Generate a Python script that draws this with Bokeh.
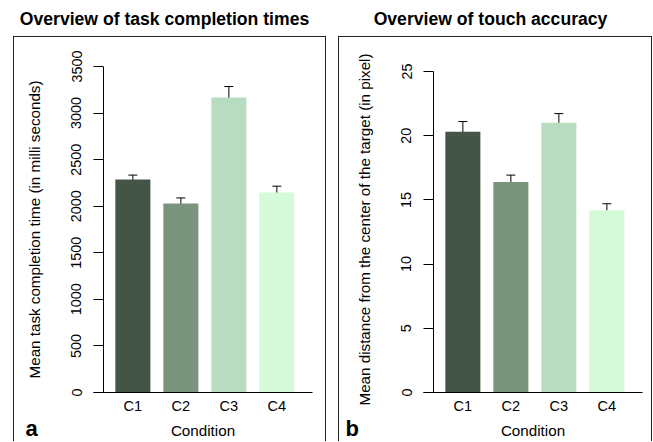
from bokeh.plotting import figure
from bokeh.models import (ColumnDataSource, Whisker, TeeHead, Label,
                          FixedTicker, Range1d)
from bokeh.layouts import row
from bokeh.embed import file_html
from bokeh.resources import INLINE

# ---- data ----
categories = ["C1", "C2", "C3", "C4"]
time_means = [2287, 2029, 3167, 2147]
time_errors = [47, 60, 118, 68]
acc_means = [20.3, 16.4, 21.0, 14.2]
acc_errors = [0.8, 0.53, 0.72, 0.5]
bar_colors = ["#445446", "#7B947E", "#B8DCBF", "#D5FAD9"]
time_ticks = [0, 500, 1000, 1500, 2000, 2500, 3000, 3500]
acc_ticks = [0, 5, 10, 15, 20, 25]

FONT = "Liberation Sans"
TICK_FS = "14.4px"
XTICK_FS = "14.6px"
LABEL_FS = "15.2px"
X_START = 0.18
PX_PER_UNIT = 48.0
FRAME_W = 219
HEIGHT = 441
FRAME_TOP = 66
FRAME_BOTTOM = 392


def panel(title, ylabel, letter, means, errors, ticks, top_tick_px, width, bl,
          box, title_cx, letter_x):
    xs = list(range(1, len(categories) + 1))
    src = ColumnDataSource(dict(
        x=xs, top=means, color=bar_colors,
        upper=[m + e for m, e in zip(means, errors)],
        lower=[m - e for m, e in zip(means, errors)],
    ))
    frame_h = FRAME_BOTTOM - FRAME_TOP
    y0 = ticks[0]
    # the highest tick sits at top_tick_px; the frame may reach a bit higher
    y1 = y0 + (ticks[-1] - y0) * frame_h / (FRAME_BOTTOM - top_tick_px)
    x_end = X_START + FRAME_W / PX_PER_UNIT

    def dx(px):  # canvas px -> data x
        return X_START + (px - bl) / PX_PER_UNIT

    def dy(py):  # canvas px -> data y
        return y0 + (FRAME_BOTTOM - py) * (y1 - y0) / frame_h

    bl_, bt_, br_ = box
    styles = {
        "background-image": "linear-gradient(#222,#222),"
                            "linear-gradient(#222,#222),"
                            "linear-gradient(#222,#222)",
        "background-position": f"{bl_}px {bt_}px, {br_}px {bt_}px, {bl_}px {bt_}px",
        "background-size": f"1px 500px, 1px 500px, {br_ - bl_ + 1}px 1px",
        "background-repeat": "no-repeat",
    }
    p = figure(width=width, height=HEIGHT, output_backend="svg",
               toolbar_location=None, tools="",
               x_range=Range1d(X_START, x_end),
               y_range=Range1d(y0, y1), styles=styles)
    p.min_border_left = bl
    p.min_border_right = width - bl - FRAME_W
    p.min_border_top = FRAME_TOP
    p.min_border_bottom = HEIGHT - FRAME_BOTTOM
    p.outline_line_color = None
    p.xgrid.visible = False
    p.ygrid.visible = False
    p.background_fill_color = None
    p.border_fill_color = None

    p.vbar(x="x", top="top", width=0.73, fill_color="color",
           line_color=None, source=src)
    p.add_layout(Whisker(base="x", upper="upper", lower="lower", source=src,
                         line_color="black", line_width=1,
                         upper_head=TeeHead(size=9, line_color="black"),
                         lower_head=TeeHead(size=9, line_color="black")))

    # x axis
    xa = p.xaxis[0]
    xa.ticker = FixedTicker(ticks=xs)
    xa.major_label_overrides = {x: c for x, c in zip(xs, categories)}
    xa.major_tick_in = 0
    xa.major_tick_out = 0
    xa.minor_tick_line_color = None
    xa.axis_line_color = "black"
    xa.major_label_text_font = FONT
    xa.major_label_text_font_size = XTICK_FS
    xa.major_label_text_color = "black"
    xa.major_label_standoff = 5
    xa.axis_label = "Condition"
    xa.axis_label_text_font = FONT
    xa.axis_label_text_font_size = LABEL_FS
    xa.axis_label_text_font_style = "normal"
    xa.axis_label_text_color = "black"
    xa.axis_label_standoff = 5

    # y axis
    ya = p.yaxis[0]
    ya.ticker = FixedTicker(ticks=ticks)
    ya.axis_line_color = None
    ya.major_tick_in = 10
    ya.major_tick_out = 0
    ya.major_tick_line_color = "black"
    ya.minor_tick_line_color = None
    ya.major_label_orientation = "vertical"
    ya.major_label_text_font = FONT
    ya.major_label_text_font_size = TICK_FS
    ya.major_label_text_color = "black"
    ya.major_label_standoff = 12
    ya.axis_label = ylabel
    ya.axis_label_text_font = FONT
    ya.axis_label_text_font_size = LABEL_FS
    ya.axis_label_text_font_style = "normal"
    ya.axis_label_text_color = "black"
    ya.axis_label_standoff = 26

    # y axis line: 10px inside the frame edge, spanning the tick range only
    axis_src = ColumnDataSource(dict(x=[X_START + 10 / PX_PER_UNIT],
                                     lo=[ticks[0]], hi=[ticks[-1]]))
    p.add_layout(Whisker(base="x", lower="lo", upper="hi", source=axis_src,
                         line_color="black", line_width=1,
                         upper_head=None, lower_head=None))

    # texts outside the frame, placed in side panels (centred vertically)
    p.add_layout(Label(x=dx(title_cx), y=dy(18), text=title,
                       text_font=FONT, text_font_size="17.6px",
                       text_font_style="bold", text_align="center",
                       text_baseline="middle", text_color="black"),
                 "above")
    p.add_layout(Label(x=dx(letter_x), y=dy(428), text=letter,
                       text_font=FONT, text_font_size="22px",
                       text_font_style="bold", text_align="left",
                       text_baseline="middle", text_color="black"),
                 "left")
    return p


pa = panel("Overview of task completion times",
           "Mean task completion time (in milli seconds)", "a",
           time_means, time_errors, time_ticks, 66, 332, 93,
           (13, 36, 325), 164, 25)
pb = panel("Overview of touch accuracy",
           "Mean distance from the center of the target (in pixel)", "b",
           acc_means, acc_errors, acc_ticks, 71, 320, 91,
           (6, 36, 319), 490 - 332, 345 - 332)

layout = row(pa, pb, spacing=0)
open("out.html", "w").write(file_html(layout, INLINE))
